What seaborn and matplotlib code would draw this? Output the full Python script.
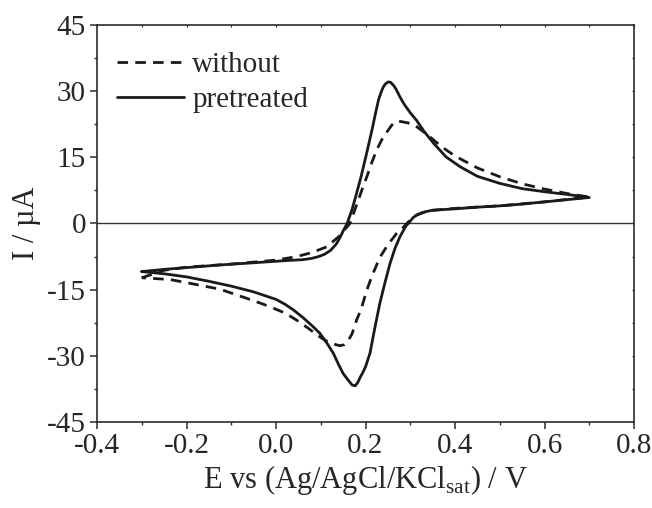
import matplotlib
matplotlib.use("Agg")
import matplotlib.pyplot as plt
import seaborn as sns
import pandas as pd
from matplotlib.ticker import MultipleLocator, FormatStrFormatter

# pretreated electrode (solid), loop: forward scan then reverse scan
pre_E = [-0.30, -0.25, -0.20, -0.125, -0.05, 0.024, 0.060, 0.080, 0.095, 0.108,
         0.122, 0.135, 0.143, 0.150, 0.159, 0.170, 0.180, 0.190, 0.199, 0.205,
         0.216, 0.222, 0.229, 0.235, 0.240, 0.245, 0.251, 0.256, 0.262, 0.268,
         0.277, 0.286, 0.300, 0.314, 0.330, 0.352, 0.380, 0.411, 0.45, 0.50,
         0.55, 0.60, 0.65, 0.70,
         0.65, 0.60, 0.55, 0.50, 0.45, 0.41, 0.38, 0.35, 0.335, 0.325,
         0.314, 0.306, 0.299, 0.290, 0.277, 0.266, 0.255, 0.244, 0.232, 0.221,
         0.210, 0.200, 0.194, 0.188, 0.183, 0.177, 0.170, 0.162, 0.150, 0.140,
         0.128, 0.113, 0.098, 0.083, 0.060, 0.039, 0.020, 0.0, -0.05, -0.10,
         -0.15, -0.20, -0.25, -0.30]
pre_I = [-10.9, -10.4, -10.0, -9.4, -8.9, -8.4, -8.2, -7.9, -7.5, -7.0,
         -6.1, -4.6, -3.2, -1.7, 0.0, 3.2, 6.8, 10.6, 14.4, 17.0,
         21.9, 24.8, 28.0, 29.8, 31.0, 31.7, 32.1, 32.0, 31.4, 30.5,
         28.7, 27.1, 25.1, 23.4, 21.0, 18.2, 15.1, 12.9, 10.7, 9.1,
         7.9, 7.2, 6.6, 5.9,
         5.4, 4.9, 4.4, 4.0, 3.7, 3.4, 3.2, 3.0, 2.7, 2.4,
         1.9, 1.3, 0.4, -0.6, -3.0, -5.6, -9.0, -13.2, -18.1, -23.6,
         -29.4, -32.5, -33.8, -34.9, -36.0, -36.8, -36.6, -35.6, -34.0, -32.0,
         -29.4, -27.0, -24.9, -23.4, -21.3, -19.6, -18.3, -17.2, -15.5, -14.2,
         -13.1, -12.1, -11.4, -10.9]

# untreated electrode (dashed)
wo_E = [-0.30, -0.25, -0.20, -0.10, 0.0, 0.046, 0.080, 0.113, 0.140, 0.165,
        0.174, 0.184, 0.193, 0.203, 0.214, 0.225, 0.238, 0.251, 0.258, 0.265,
        0.272, 0.280, 0.295, 0.311, 0.340, 0.370, 0.40, 0.45, 0.50, 0.55,
        0.60, 0.65, 0.70,
        0.60, 0.50, 0.41, 0.35, 0.330, 0.314, 0.30, 0.285, 0.270, 0.250,
        0.232, 0.214, 0.203, 0.190, 0.180, 0.170, 0.160, 0.152, 0.142, 0.125,
        0.110, 0.098, 0.070, 0.046, 0.020, -0.015, -0.05, -0.125, -0.18,
        -0.237, -0.30]
wo_I = [-12.3, -10.6, -9.9, -9.2, -8.3, -7.5, -6.6, -5.3, -3.0, 0.0,
        2.5, 5.3, 7.9, 10.6, 13.8, 16.7, 19.3, 21.2, 22.2, 23.0,
        23.2, 23.1, 22.8, 22.2, 20.0, 17.4, 15.3, 12.6, 10.6, 9.0,
        7.8, 6.8, 6.0,
        4.9, 4.0, 3.5, 3.0, 2.5, 1.9, 0.8, -0.8, -2.2, -4.8,
        -7.7, -12.0, -15.1, -19.5, -21.9, -25.0, -26.8, -27.5, -27.7, -27.2,
        -26.5, -25.7, -23.6, -21.9, -20.3, -18.8, -17.5, -14.9, -13.8,
        -12.7, -12.3]

labels = ["without", "pretreated"]

sns.set_style("ticks")
plt.rcParams["font.family"] = ["Liberation Serif", "DejaVu Serif"]
plt.rcParams["mathtext.fontset"] = "custom"
plt.rcParams["mathtext.rm"] = "Liberation Serif"
plt.rcParams["axes.unicode_minus"] = False

fig = plt.figure(figsize=(6.52, 5.08), dpi=100)
ax = fig.add_axes([97 / 652, 1 - 422 / 508, 537 / 652, 397 / 508])

ax.axhline(0, color="#333333", lw=1.0, zorder=1)

df_wo = pd.DataFrame({"E": wo_E, "I": wo_I})
df_pre = pd.DataFrame({"E": pre_E, "I": pre_I})

sns.lineplot(data=df_wo, x="E", y="I", sort=False, estimator=None, ax=ax,
             color="#1a1a1a", lw=2.0, linestyle=(0, (3.8, 2.6)),
             label=labels[0])
sns.lineplot(data=df_pre, x="E", y="I", sort=False, estimator=None, ax=ax,
             color="#1a1a1a", lw=2.0, label=labels[1])

ax.set_xlim(-0.4, 0.8)
ax.set_ylim(-45, 45)
ax.xaxis.set_major_locator(MultipleLocator(0.2))
ax.xaxis.set_minor_locator(MultipleLocator(0.1))
ax.yaxis.set_major_locator(MultipleLocator(15))
ax.yaxis.set_minor_locator(MultipleLocator(7.5))
ax.xaxis.set_major_formatter(FormatStrFormatter("%.1f"))
ax.yaxis.set_major_formatter(FormatStrFormatter("%d"))

for s in ax.spines.values():
    s.set_linewidth(1.2)
    s.set_color("#2b2b2b")

ax.tick_params(which="major", direction="out", length=5, width=1.1,
               labelsize=21, color="#2b2b2b", pad=3)
ax.tick_params(which="minor", direction="out", length=2.5, width=1.0,
               color="#2b2b2b")

# short inward marks on top/right spines
sec_x = ax.secondary_xaxis("top")
sec_x.xaxis.set_major_locator(MultipleLocator(0.1))
sec_x.tick_params(direction="in", length=1.5, width=0.8, labeltop=False)
sec_x.spines["top"].set_visible(False)
sec_y = ax.secondary_yaxis("right")
sec_y.yaxis.set_major_locator(MultipleLocator(7.5))
sec_y.tick_params(direction="in", length=1.5, width=0.8, labelright=False)
sec_y.spines["right"].set_visible(False)

ax.set_xlabel(r"E vs (Ag/AgCl/KCl$_\mathregular{sat}$) / V", fontsize=22, labelpad=3)
ax.set_ylabel("I / µA", fontsize=22, labelpad=4)

ax.legend(loc="upper left", bbox_to_anchor=(0.037, 0.932), frameon=False,
          fontsize=21, handlelength=2.3, handletextpad=0.28, labelspacing=0.28,
          borderpad=0, borderaxespad=0)

fig.savefig("out.png", dpi=100)
